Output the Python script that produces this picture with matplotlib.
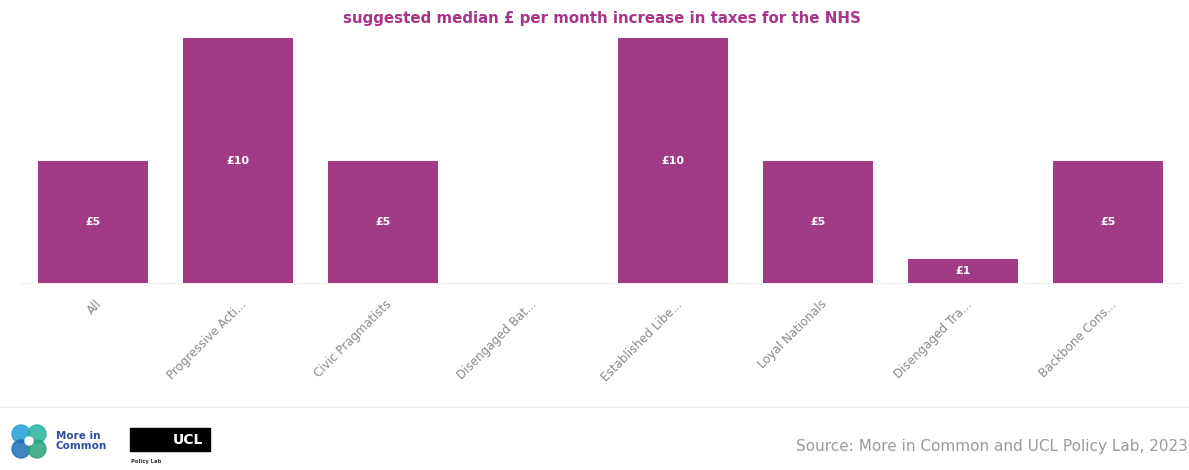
import matplotlib
matplotlib.use("Agg")
import matplotlib.pyplot as plt
import matplotlib.transforms as mtransforms
from matplotlib.patches import Circle, Rectangle

# data
segments = ["All", "Progressive Acti...", "Civic Pragmatists", "Disengaged Bat...",
            "Established Libe...", "Loyal Nationals", "Disengaged Tra...", "Backbone Cons..."]
values = [5, 10, 5, 0, 10, 5, 1, 5]
labels = ["£5", "£10", "£5", "", "£10", "£5", "£1", "£5"]

C_BAR = "#A23B86"
C_TITLE = "#A6358A"
C_GREY = "#8a8a8a"

W, H = 1189, 470
fig = plt.figure(figsize=(W / 100, H / 100), dpi=100)
fig.patch.set_facecolor("white")

ax = fig.add_axes([20.5 / W, 1 - 283 / H, 1160 / W, 245 / H])
x = range(len(segments))
bars = ax.bar(x, values, width=0.76, color=C_BAR, zorder=3)
for b, v, lbl in zip(bars, values, labels):
    if v > 0:
        ax.text(b.get_x() + b.get_width() / 2, v / 2, lbl, ha="center", va="center",
                color="white", fontsize=8, fontweight="bold", zorder=4)

ax.set_xlim(-0.5, len(segments) - 0.5)
ax.set_ylim(0, 10)
ax.set_yticks([])
ax.set_xticks(list(x))
ax.set_xticklabels(segments, rotation=45, ha="right", va="center",
                   rotation_mode="anchor", fontsize=8.6, color=C_GREY)
ax.tick_params(axis="x", length=0, pad=14)
# nudge labels slightly right like the original
offset = mtransforms.ScaledTranslation(5 / 72, 0, fig.dpi_scale_trans)
for t in ax.get_xticklabels():
    t.set_transform(t.get_transform() + offset)
for s in ["top", "right", "left"]:
    ax.spines[s].set_visible(False)
ax.spines["bottom"].set_color("#eeeeee")
ax.spines["bottom"].set_linewidth(0.8)

fig.text(602 / W, 1 - 18 / H, "suggested median £ per month increase in taxes for the NHS",
         ha="center", va="center", fontsize=10.8, fontweight="bold", color=C_TITLE)

# footer separator
fig.add_artist(plt.Line2D([0, 1], [1 - 407 / H, 1 - 407 / H], color="#eeeeee", lw=1))

# logos (approximate)
lax = fig.add_axes([0, 0, 1, 1], facecolor="none")
lax.set_xlim(0, W)
lax.set_ylim(H, 0)
lax.axis("off")
for dx, dy, c in [(-8, -7, "#1F9ED8"), (8, -7, "#2BB3A0"), (-8, 8, "#1E6FB8"), (8, 8, "#29A37D")]:
    lax.add_patch(Circle((29 + dx, 441 + dy), 9, color=c, alpha=0.85))
lax.add_patch(Circle((29, 441), 4, color="white"))
lax.text(56, 441, "More in\nCommon", ha="left", va="center", fontsize=7.5,
         fontweight="bold", color="#2B4FA0", linespacing=0.95)
lax.add_patch(Rectangle((130, 428), 80, 23, color="black"))
lax.text(188, 440, "UCL", ha="center", va="center", fontsize=10,
         fontweight="bold", color="white")
lax.text(131, 461, "Policy Lab", ha="left", va="center", fontsize=3.8,
         fontweight="bold", color="#333333")

fig.text(1188 / W, 1 - 446 / H, "Source: More in Common and UCL Policy Lab, 2023",
         ha="right", va="center", fontsize=11, color="#9a9a9a")

fig.savefig("out.png", dpi=100, facecolor="white")
